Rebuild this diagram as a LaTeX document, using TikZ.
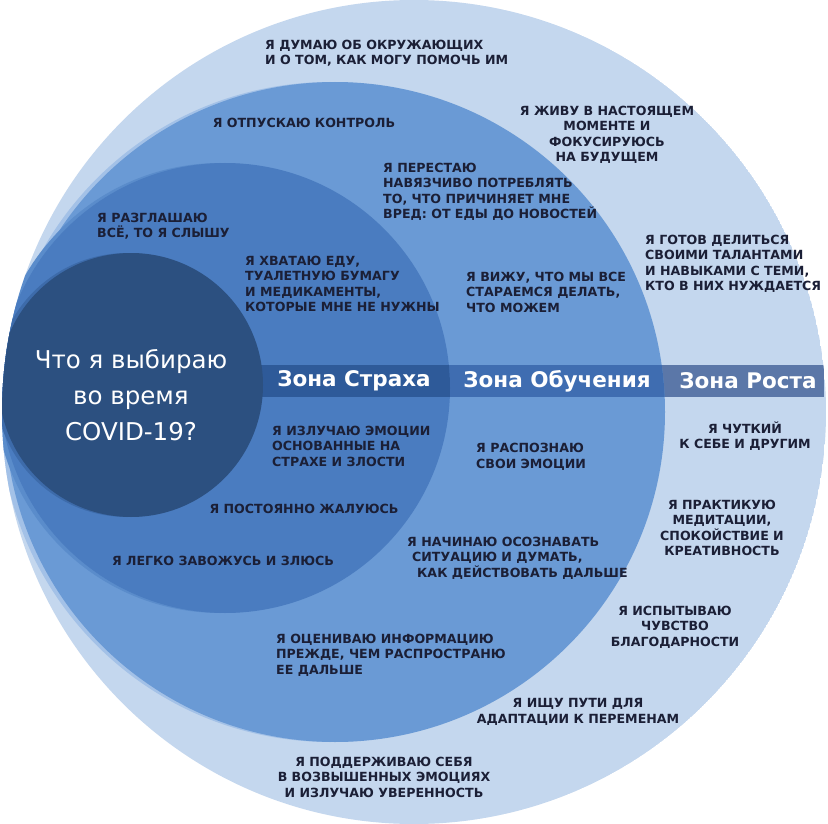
\documentclass[tikz,border=0pt]{standalone}
\usepackage{fontspec}
\setmainfont{DejaVu Sans}
\definecolor{growth}{HTML}{C4D7EE}
\definecolor{growthedge}{HTML}{A3C1E7}
\definecolor{learn}{HTML}{6A9AD5}
\definecolor{learnedge}{HTML}{5A8CCB}
\definecolor{fear}{HTML}{4A7CC0}
\definecolor{fearedge}{HTML}{3D6BAA}
\definecolor{core}{HTML}{2C5080}
\definecolor{bandfear}{HTML}{2E5A99}
\definecolor{bandlearn}{HTML}{3F6DB1}
\definecolor{bandgrowth}{HTML}{5B77A8}
\definecolor{ink}{HTML}{1B1F36}
\begin{document}
\begin{tikzpicture}[x=1pt,y=-1pt,
  lbl/.style={font=\fontsize{12.6}{15.5}\selectfont\bfseries, text=ink, inner sep=0pt},
  zone/.style={font=\fontsize{21.5}{24}\selectfont\bfseries, text=white, inner sep=0pt},
  title/.style={font=\fontsize{24.5}{36}\selectfont, text=white, inner sep=0pt, align=center}]
\useasboundingbox (0,0) rectangle (828,824);
\fill[white] (0,0) rectangle (828,824);
\begin{scope}
  \clip (414,412) circle[radius=412pt];
  \fill[growth] (414,412) circle[radius=412pt];
  \fill[bandgrowth] (262,365) rectangle (824,397);
  \fill[growthedge] (330,412) circle[radius=330pt];
  \fill[learn] (335,412) circle[radius=330pt];
  \begin{scope}
    \clip (335,412) circle[radius=330pt];
    \fill[bandlearn] (262,365) rectangle (824,397);
  \end{scope}
  \fill[learnedge] (220,388) circle[radius=225pt];
  \fill[fear] (225,388) circle[radius=225pt];
  \begin{scope}
    \clip (225,388) circle[radius=225pt];
    \fill[bandfear] (200,365) rectangle (824,397);
  \end{scope}
  \fill[fearedge] (127,385) circle[radius=132pt];
  \fill[core] (131,385) circle[radius=132pt];
\end{scope}

% centre title
\node[title] (q) at (131,395) {Что я выбираю\\во время\\COVID-19?};

% zone band labels
\node[zone] (zf) at (354,381) {Зона Страха};
\node[zone] (zl) at (557,381) {Зона Обучения};
\node[zone] (zg) at (748,381) {Зона Роста};

% upper labels
\node[lbl, anchor=west, align=left] (a1) at (265,53) {Я ДУМАЮ ОБ ОКРУЖАЮЩИХ\\И О ТОМ, КАК МОГУ ПОМОЧЬ ИМ};
\node[lbl] (a2) at (304,123) {Я ОТПУСКАЮ КОНТРОЛЬ};
\node[lbl, anchor=west, align=left] (a3) at (383,192) {Я ПЕРЕСТАЮ\\НАВЯЗЧИВО ПОТРЕБЛЯТЬ\\ТО, ЧТО ПРИЧИНЯЕТ МНЕ\\ВРЕД: ОТ ЕДЫ ДО НОВОСТЕЙ};
\node[lbl, align=center] (a4) at (607,135) {Я ЖИВУ В НАСТОЯЩЕМ\\МОМЕНТЕ И\\ФОКУСИРУЮСЬ\\НА БУДУЩЕМ};
\node[lbl, anchor=west, align=left] (a5) at (97,226) {Я РАЗГЛАШАЮ\\ВСЁ, ТО Я СЛЫШУ};
\node[lbl, anchor=west, align=left] (a6) at (245,284) {Я ХВАТАЮ ЕДУ,\\ТУАЛЕТНУЮ БУМАГУ\\И МЕДИКАМЕНТЫ,\\КОТОРЫЕ МНЕ НЕ НУЖНЫ};
\node[lbl, anchor=west, align=left] (a7) at (466,292) {Я ВИЖУ, ЧТО МЫ ВСЕ\\СТАРАЕМСЯ ДЕЛАТЬ,\\ЧТО МОЖЕМ};
\node[lbl, anchor=west, align=left] (a8) at (645,264) {Я ГОТОВ ДЕЛИТЬСЯ\\СВОИМИ ТАЛАНТАМИ\\И НАВЫКАМИ С ТЕМИ,\\КТО В НИХ НУЖДАЕТСЯ};

% lower labels
\node[lbl, anchor=west, align=left] (b1) at (272,446) {Я ИЗЛУЧАЮ ЭМОЦИИ\\ОСНОВАННЫЕ НА\\СТРАХЕ И ЗЛОСТИ};
\node[lbl] (b2) at (304,509) {Я ПОСТОЯННО ЖАЛУЮСЬ};
\node[lbl] (b3) at (223,561) {Я ЛЕГКО ЗАВОЖУСЬ И ЗЛЮСЬ};
\node[lbl, anchor=west, align=left] (b4) at (276,655) {Я ОЦЕНИВАЮ ИНФОРМАЦИЮ\\ПРЕЖДЕ, ЧЕМ РАСПРОСТРАНЮ\\ЕЕ ДАЛЬШЕ};
\node[lbl, align=center] (b5) at (384,777) {Я ПОДДЕРЖИВАЮ СЕБЯ\\В ВОЗВЫШЕННЫХ ЭМОЦИЯХ\\И ИЗЛУЧАЮ УВЕРЕННОСТЬ};
\node[lbl, anchor=west, align=left] (b6) at (476,457) {Я РАСПОЗНАЮ\\СВОИ ЭМОЦИИ};
\node[lbl, anchor=west, align=left] (b7) at (407,558) {Я НАЧИНАЮ ОСОЗНАВАТЬ\\\hspace*{5pt}СИТУАЦИЮ И ДУМАТЬ,\\\hspace*{10pt}КАК ДЕЙСТВОВАТЬ ДАЛЬШЕ};
\node[lbl, align=center] (b8) at (745,436) {Я ЧУТКИЙ\\К СЕБЕ И ДРУГИМ};
\node[lbl, align=center] (b9) at (722,528) {Я ПРАКТИКУЮ\\МЕДИТАЦИИ,\\СПОКОЙСТВИЕ И\\КРЕАТИВНОСТЬ};
\node[lbl, align=center] (b10) at (675,627) {Я ИСПЫТЫВАЮ\\ЧУВСТВО\\БЛАГОДАРНОСТИ};
\node[lbl, align=center] (b11) at (578,712) {Я ИЩУ ПУТИ ДЛЯ\\АДАПТАЦИИ К ПЕРЕМЕНАМ};
\end{tikzpicture}
\end{document}
